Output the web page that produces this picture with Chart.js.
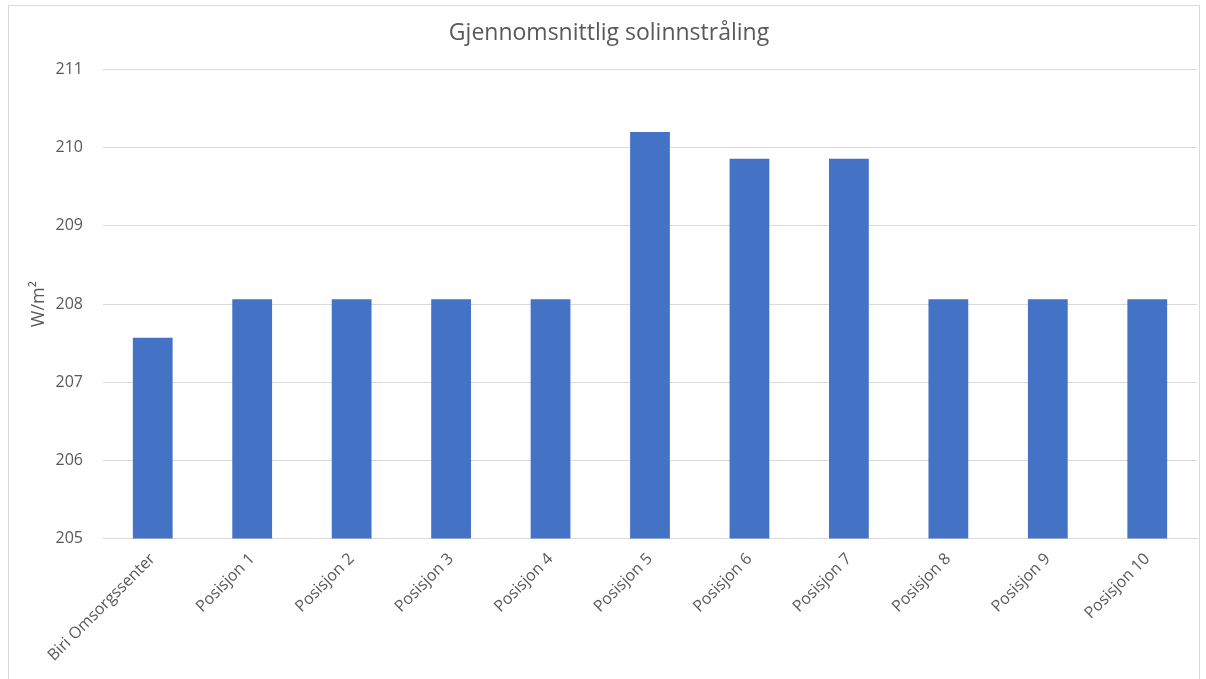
<!DOCTYPE html>
<html>
<head>
<meta charset="utf-8">
<script src="https://cdn.jsdelivr.net/npm/chart.js@4"></script>
<style>
  body { margin: 0; background: #fff; }
  #ramme { position: absolute; left: 8px; top: 5px; width: 1190px; height: 690px; border: 1px solid #d9d9d9; }
  #wrap { position: absolute; left: 0; top: 0; width: 1206px; height: 679px; }
</style>
</head>
<body>
<div id="ramme"></div>
<div id="wrap"><canvas id="solChart" width="1206" height="679"></canvas></div>
<script>
// ==================== DATA ====================
const kategorier = ['Biri Omsorgssenter', 'Posisjon 1', 'Posisjon 2', 'Posisjon 3', 'Posisjon 4',
    'Posisjon 5', 'Posisjon 6', 'Posisjon 7', 'Posisjon 8', 'Posisjon 9', 'Posisjon 10'];
const straling = [207.57, 208.06, 208.06, 208.06, 208.06, 210.2, 209.86, 209.86, 208.06, 208.06, 208.06];
const yMin = 205;
const yMax = 211;

const tekstFarge = '#595959';
const gridFarge = '#d9d9d9';
const font = "'Open Sans', 'Liberation Sans', sans-serif";

// ==================== TEGN ====================
const ctx = document.getElementById('solChart').getContext('2d');
new Chart(ctx, {
    type: 'bar',
    data: {
        labels: kategorier,
        datasets: [{ label: 'Solinnstråling', data: straling, backgroundColor: '#4472c4', barPercentage: 0.4, categoryPercentage: 1 }]
    },
    options: {
        responsive: false,
        animation: false,
        layout: { padding: { left: 21, right: 9, top: 12, bottom: 3 } },
        plugins: {
            legend: { display: false },
            tooltip: { enabled: false },
            title: {
                display: true,
                text: 'Gjennomsnittlig solinnstråling',
                color: tekstFarge,
                font: { family: font, size: 23, weight: 'normal' },
                padding: { top: 8, bottom: 22 }
            }
        },
        scales: {
            x: {
                grid: { display: false, drawTicks: false },
                border: { color: gridFarge },
                ticks: { color: tekstFarge, font: { family: font, size: 16 }, minRotation: 45, maxRotation: 45, padding: 11 }
            },
            y: {
                min: yMin,
                max: yMax,
                afterFit: (skala) => { skala.width = 82; },
                grid: { color: gridFarge, drawTicks: false },
                border: { display: false },
                ticks: { stepSize: 1, color: tekstFarge, font: { family: font, size: 16 }, padding: 20 },
                title: { display: true, text: 'W/m²', color: tekstFarge, font: { family: font, size: 18 }, padding: { top: 7, bottom: 0 } }
            }
        }
    }
});
</script>
</body>
</html>
